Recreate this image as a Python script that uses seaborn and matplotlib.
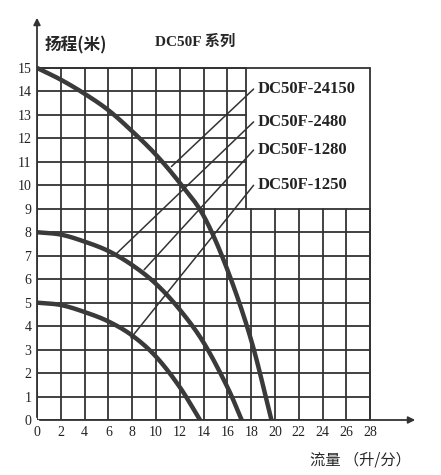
import matplotlib
matplotlib.use("Agg")
import matplotlib.pyplot as plt
import seaborn as sns
import numpy as np

sns.set_style("white")
plt.rcParams['font.family'] = ['Liberation Serif', 'Noto Sans CJK SC', 'DejaVu Sans']

flow_a = [0, 2, 4, 6, 8, 10, 12, 14, 16, 18, 19.7]
head_a = [15, 14.5, 13.9, 13.2, 12.3, 11.3, 10.1, 8.7, 6.4, 3.4, 0]
flow_b = [0, 2, 4, 6, 8, 10, 12, 14, 16, 17.2]
head_b = [8, 7.9, 7.6, 7.2, 6.6, 5.8, 4.7, 3.3, 1.4, 0]
flow_c = [0, 2, 4, 6, 8, 10, 12, 13.7]
head_c = [5, 4.9, 4.6, 4.2, 3.6, 2.7, 1.4, 0]
models = ["DC50F-24150", "DC50F-2480", "DC50F-1280", "DC50F-1250"]
label_y = [14.1, 12.7, 11.5, 10.0]
leader_end = [(11.3, 10.8), (6.7, 7.1), (9.0, 6.4), (7.9, 3.5)]
xticks = list(range(0, 29, 2))
yticks = list(range(0, 16))


def catmull(xp, yp, n=30):
    P = np.column_stack([xp, yp]).astype(float)
    P = np.vstack([2*P[0]-P[1], P, 2*P[-1]-P[-2]])
    out = []
    t = np.linspace(0, 1, n)[:, None]
    for i in range(1, len(P)-2):
        p0, p1, p2, p3 = P[i-1], P[i], P[i+1], P[i+2]
        seg = 0.5*((2*p1) + (-p0+p2)*t + (2*p0-5*p1+4*p2-p3)*t**2 + (-p0+3*p1-3*p2+p3)*t**3)
        out.append(seg)
    o = np.vstack(out)
    return o[:, 0], o[:, 1]


fig = plt.figure(figsize=(4.41, 4.75), dpi=100)
ax = fig.add_axes([37/441, 1-420/475, 381/441, 411/475])
ax.set_xlim(0, 381/11.9)
ax.set_ylim(0, 411/23.47)
for s in ax.spines.values():
    s.set_visible(False)
gc = "#333333"
for x in xticks:
    top = 9 if x >= 18 else 15
    ax.plot([x, x], [0, top], color=gc, lw=1.3)
for y in yticks:
    right = 17.6 if y > 9 else 28
    ax.plot([0, right], [y, y], color=gc, lw=1.3)
ax.plot([28, 28], [0, 15], color=gc, lw=1.3)
ax.plot([0, 28], [15, 15], color=gc, lw=1.3)
ax.plot([17.6, 17.6], [9, 15], color=gc, lw=1.3)
ax.annotate("", xy=(381/11.9, 0), xytext=(0, 0), arrowprops=dict(arrowstyle="-|>", color=gc, lw=1.3))
ax.annotate("", xy=(0, 405/23.47), xytext=(0, 0), arrowprops=dict(arrowstyle="-|>", color=gc, lw=1.3))

for fx, hy in [(flow_a, head_a), (flow_b, head_b), (flow_c, head_c)]:
    xs, ys = catmull(fx, hy)
    sns.lineplot(x=xs, y=ys, ax=ax, color="#3a3a3a", lw=3.2, sort=False)

for m, ly, (ex, ey) in zip(models, label_y, leader_end):
    ax.plot([ex, 18.2], [ey, ly], color=gc, lw=1.1)
    ax.text(18.5, ly, m, fontsize=12, fontweight='bold', va='center', ha='left', color="#222222")

ax.set_xticks(xticks)
ax.set_yticks(yticks)
ax.tick_params(length=0, labelsize=10, pad=4, colors="#222222")
fig.text(45/441, 1-45/475, "扬程(米)", fontsize=12, fontweight='bold', va='center', family=['Noto Sans CJK SC'])
fig.text(155/441, 1-42/475, "DC50F 系列", fontsize=11, fontweight='bold', va='center', family=['Liberation Serif', 'Noto Sans CJK SC'])
fig.text(310/441, 1-460/475, "流量 （升/分）", fontsize=11, va='center', family=['Noto Sans CJK SC'])
fig.savefig("out.png", dpi=100)
